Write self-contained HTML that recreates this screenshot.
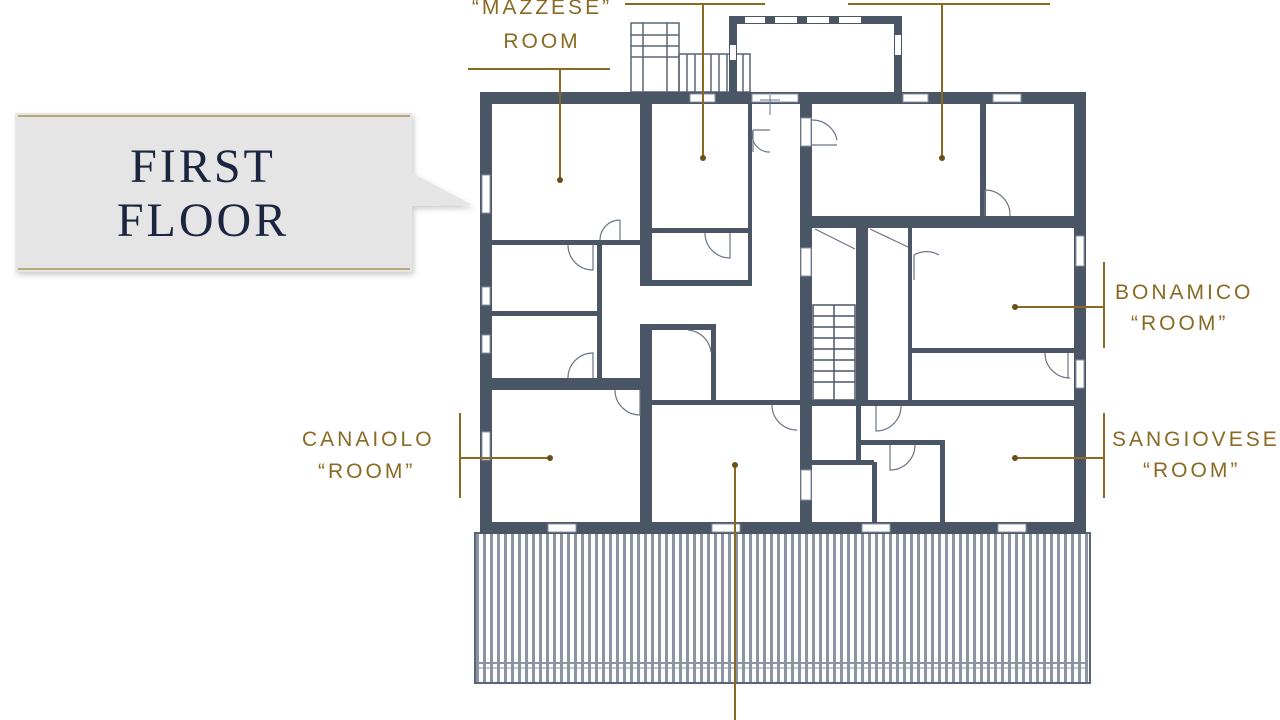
<!DOCTYPE html>
<html><head><meta charset="utf-8"><style>
html,body{margin:0;padding:0;background:#fff;width:1280px;height:720px;overflow:hidden}
svg{display:block}
.g{font-family:"Liberation Sans",sans-serif;font-size:21px;fill:#8a6a22;letter-spacing:3px}
</style></head><body>
<svg width="1280" height="720" viewBox="0 0 1280 720" xmlns="http://www.w3.org/2000/svg">
<defs>
<pattern id="st" width="7" height="10" patternUnits="userSpaceOnUse">
<rect width="7" height="10" fill="#fff"/><rect x="0" width="3" height="10" fill="#8a94a3"/>
</pattern>
<filter id="sh" x="-5%" y="-10%" width="115%" height="130%"><feDropShadow dx="2" dy="3" stdDeviation="3" flood-color="#000" flood-opacity="0.2"/></filter>
</defs>

<g filter="url(#sh)">
<path d="M15 113 H412 V173 L472 205 L412 206 V272 H15 Z" fill="#e5e5e5"/>
</g>
<line x1="18" y1="116" x2="410" y2="116" stroke="#b8a878" stroke-width="2"/>
<line x1="18" y1="269" x2="410" y2="269" stroke="#b8a878" stroke-width="2"/>
<text x="203" y="182" text-anchor="middle" font-family="Liberation Serif,serif" font-size="48" letter-spacing="3" fill="#1b2540">FIRST</text>
<text x="203" y="236" text-anchor="middle" font-family="Liberation Serif,serif" font-size="48" letter-spacing="3" fill="#1b2540">FLOOR</text>

<rect x="475" y="533" width="615" height="150" fill="url(#st)" stroke="#5a6575" stroke-width="2"/>
<line x1="477" y1="663" x2="1088" y2="663" stroke="#8a94a3" stroke-width="2"/>
<line x1="477" y1="668" x2="1088" y2="668" stroke="#8a94a3" stroke-width="1"/>

<g fill="none" stroke="#5a6575" stroke-width="1.5">
<rect x="631" y="23" width="48" height="69"/>
<line x1="631" y1="35" x2="679" y2="35"/><line x1="631" y1="46" x2="679" y2="46"/><line x1="631" y1="57" x2="679" y2="57"/>
<line x1="643" y1="23" x2="643" y2="92"/><line x1="667" y1="23" x2="667" y2="92"/>
<rect x="679" y="54" width="71" height="38"/>
<line x1="687" y1="54" x2="687" y2="92"/><line x1="695" y1="54" x2="695" y2="92"/><line x1="703" y1="54" x2="703" y2="92"/><line x1="711" y1="54" x2="711" y2="92"/><line x1="719" y1="54" x2="719" y2="92"/><line x1="727" y1="54" x2="727" y2="92"/><line x1="735" y1="54" x2="735" y2="92"/><line x1="743" y1="54" x2="743" y2="92"/>
</g>
<path d="M733 92 V20 H898 V92" fill="none" stroke="#4a5566" stroke-width="8"/>
<g fill="#fff"><rect x="745" y="17" width="20" height="6"/><rect x="775" y="17" width="22" height="6"/><rect x="807" y="17" width="22" height="6"/><rect x="839" y="17" width="22" height="6"/><rect x="895" y="35" width="6" height="20"/><rect x="730" y="45" width="6" height="15"/></g>

<g fill="#4a5566">
<rect x="480" y="92" width="606" height="12"/>
<rect x="480" y="522" width="606" height="12"/>
<rect x="480" y="92" width="12" height="442"/>
<rect x="1074" y="92" width="12" height="442"/>
<rect x="640" y="104" width="12" height="182"/>
<rect x="640" y="326" width="12" height="196"/>
<rect x="640" y="280" width="112" height="6"/>
<rect x="652" y="228" width="98" height="5"/>
<rect x="748" y="104" width="4" height="180"/>
<rect x="492" y="240" width="148" height="5"/>
<rect x="492" y="311" width="108" height="5"/>
<rect x="492" y="378" width="148" height="12"/>
<rect x="597" y="245" width="5" height="140"/>
<rect x="640" y="324" width="76" height="6"/>
<rect x="711" y="324" width="5" height="78"/>
<rect x="652" y="400" width="150" height="5"/>
<rect x="800" y="104" width="12" height="418"/>
<rect x="812" y="216" width="262" height="12"/>
<rect x="980" y="104" width="6" height="112"/>
<rect x="856" y="228" width="12" height="172"/>
<rect x="908" y="228" width="4" height="172"/>
<rect x="912" y="348" width="162" height="5"/>
<rect x="812" y="400" width="262" height="6"/>
<rect x="856" y="406" width="5" height="58"/>
<rect x="812" y="460" width="62" height="5"/>
<rect x="860" y="440" width="85" height="5"/>
<rect x="940" y="440" width="5" height="82"/>
<rect x="872" y="462" width="5" height="60"/>
</g>
<g stroke="#4a5566" stroke-width="1.5">
<rect x="813" y="305" width="42" height="95" fill="#fff"/>
<line x1="813" y1="316" x2="855" y2="316"/><line x1="813" y1="327" x2="855" y2="327"/><line x1="813" y1="338" x2="855" y2="338"/><line x1="813" y1="349" x2="855" y2="349"/><line x1="813" y1="360" x2="855" y2="360"/><line x1="813" y1="371" x2="855" y2="371"/><line x1="813" y1="382" x2="855" y2="382"/><line x1="834" y1="305" x2="834" y2="400"/>
</g>
<g fill="#fff" stroke="#8a94a3" stroke-width="1">
<rect x="482" y="175" width="8" height="38"/><rect x="482" y="287" width="8" height="18"/><rect x="482" y="335" width="8" height="18"/><rect x="482" y="432" width="8" height="28"/>
<rect x="1076" y="236" width="8" height="30"/><rect x="1076" y="360" width="8" height="28"/>
<rect x="690" y="94" width="25" height="8"/><rect x="752" y="94" width="46" height="8"/><rect x="903" y="94" width="25" height="8"/><rect x="993" y="94" width="28" height="8"/>
<rect x="548" y="524" width="28" height="8"/><rect x="712" y="524" width="28" height="8"/><rect x="862" y="524" width="28" height="8"/><rect x="998" y="524" width="28" height="8"/>
<rect x="801" y="118" width="10" height="28"/><rect x="801" y="248" width="10" height="28"/><rect x="801" y="470" width="10" height="30"/>
</g>
<g fill="none" stroke="#6a7585" stroke-width="1.2">
<path d="M753 130 h17 M753 130 a17 17 0 0 0 17 22 M753 130 v22"/>
<path d="M812 120 a25 25 0 0 1 25 20 M812 145 h25"/>
<path d="M985 190 v26 M985 190 a25 25 0 0 1 25 26"/>
<path d="M620 220 a20 20 0 0 0 -20 20 M620 220 v20"/>
<path d="M568 245 a25 25 0 0 0 25 25 V245"/>
<path d="M705 233 a25 25 0 0 0 25 25 V233"/>
<path d="M568 378 a25 25 0 0 1 25 -25 V378"/>
<path d="M615 390 a25 25 0 0 0 25 25 V390"/>
<path d="M688 330 a25 25 0 0 1 23 22"/>
<path d="M772 405 a25 25 0 0 0 25 25"/>
<path d="M914 255 a25 25 0 0 1 25 0 M914 255 v25"/>
<path d="M1045 353 a25 25 0 0 0 25 25 M1068 353 v25"/>
<path d="M876 406 v25 a25 25 0 0 0 25 -25"/>
<path d="M890 445 v25 a25 25 0 0 0 25 -25"/>
<path d="M815 229 l40 20 M870 229 l38 18"/>
</g>
<path d="M770 95 v20 M760 100 h20" stroke="#6a7585" stroke-width="1"/>

<g stroke="#8a6a22" stroke-width="2" fill="none">
<line x1="468" y1="69" x2="610" y2="69"/><line x1="560" y1="69" x2="560" y2="180"/>
<line x1="625" y1="4" x2="765" y2="4"/><line x1="703" y1="4" x2="703" y2="158"/>
<line x1="848" y1="4" x2="1050" y2="4"/><line x1="942" y1="4" x2="942" y2="158"/>
<line x1="1104" y1="262" x2="1104" y2="348"/><line x1="1015" y1="307" x2="1104" y2="307"/>
<line x1="1104" y1="413" x2="1104" y2="498"/><line x1="1015" y1="458" x2="1104" y2="458"/>
<line x1="460" y1="413" x2="460" y2="498"/><line x1="460" y1="458" x2="550" y2="458"/>
<line x1="735" y1="465" x2="735" y2="720"/>
</g>
<g fill="#6a5018">
<circle cx="560" cy="180" r="3"/><circle cx="703" cy="158" r="3"/><circle cx="942" cy="158" r="3"/>
<circle cx="1015" cy="307" r="3"/><circle cx="1015" cy="458" r="3"/><circle cx="550" cy="458" r="3"/><circle cx="735" cy="465" r="3"/>
</g>
<text class="g" x="542" y="14" text-anchor="middle">“MAZZESE”</text>
<text class="g" x="542" y="48" text-anchor="middle">ROOM</text>
<text class="g" x="1115" y="299">BONAMICO</text>
<text class="g" x="1131" y="330">“ROOM”</text>
<text class="g" x="1112" y="446">SANGIOVESE</text>
<text class="g" x="1143" y="477">“ROOM”</text>
<text class="g" x="302" y="446">CANAIOLO</text>
<text class="g" x="318" y="478">“ROOM”</text>
</svg>
</body></html>
